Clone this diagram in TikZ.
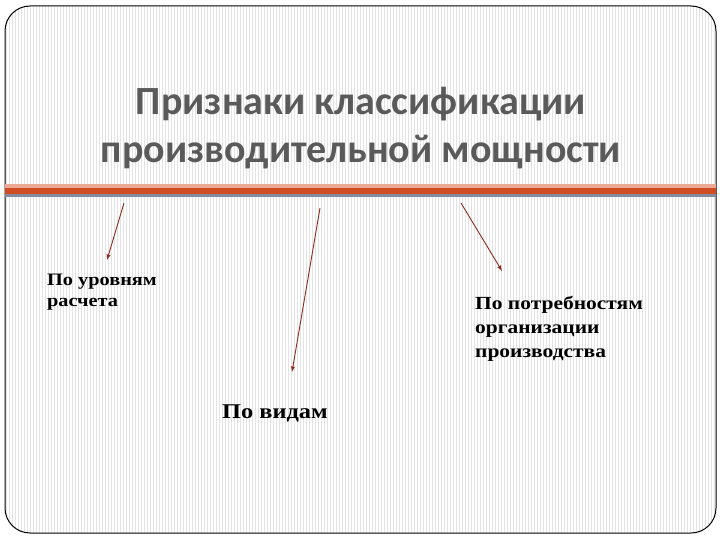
\documentclass[tikz,border=0pt]{standalone}
\usepackage{fontspec}
\setmainfont{Liberation Serif}[FakeStretch=1.16]
\newfontfamily\titlefont{Carlito}
\definecolor{arrowred}{RGB}{140,45,30}
\definecolor{bartop}{RGB}{236,170,150}
\definecolor{barmid}{RGB}{208,76,34}
\definecolor{barlow}{RGB}{130,140,160}
\definecolor{titlegray}{RGB}{90,90,90}
\tikzset{
  label text/.style={font=\bfseries, align=left, anchor=base west, inner sep=0pt},
  pointer/.style={draw=arrowred, line width=0.9pt, -latex}
}

\begin{document}
\begin{tikzpicture}[x=1pt,y=-1pt]
        \useasboundingbox (0,0) rectangle (720,540);
        % striped slide background
        \begin{scope}
          \clip[rounded corners=25pt] (5,6) rectangle (716,533);
          \fill[white] (5,6) rectangle (716,533);
          \foreach \x in {6,9,...,716}
            \draw[gray!22, line width=0.8pt] (\x,6) -- (\x,533);
        \end{scope}
        \draw[line width=1pt, rounded corners=25pt] (5,6) rectangle (716,533);
        
        % title (base = last line)
        \node (title) [font=\titlefont\bfseries\fontsize{40}{48}\selectfont, text=titlegray, align=center, anchor=base, inner sep=0pt]
          at (361,163) {Признаки классификации\\производительной мощности};
        
        % bar under the title
        \fill[bartop] (5,184) rectangle (716,189);
        \fill[barmid] (5,188) rectangle (716,194);
        \fill[barlow] (5,194) rectangle (716,197);
        
        % labels (base = last line)
        \node (levels) [label text, font=\bfseries\fontsize{17.5}{21}\selectfont] at (47,306) {По уровням\\расчета};
        \node (kinds) [label text, font=\bfseries\fontsize{21}{25}\selectfont] at (222,418) {По видам};
        \node (needs) [label text, font=\bfseries\fontsize{18.5}{24}\selectfont] at (475,357) {По потребностям\\организации\\производства};
        
        % arrows
        \coordinate (a1) at (124,203);
        \coordinate (b1) at (107,260);
        \coordinate (a2) at (320,208);
        \coordinate (b2) at (292,372);
        \coordinate (a3) at (461,203);
        \coordinate (b3) at (502,271);
        \draw[pointer] (a1) -- (b1);
        \draw[pointer] (a2) -- (b2);
        \draw[pointer] (a3) -- (b3);
        
    \end{tikzpicture}
\end{document}
